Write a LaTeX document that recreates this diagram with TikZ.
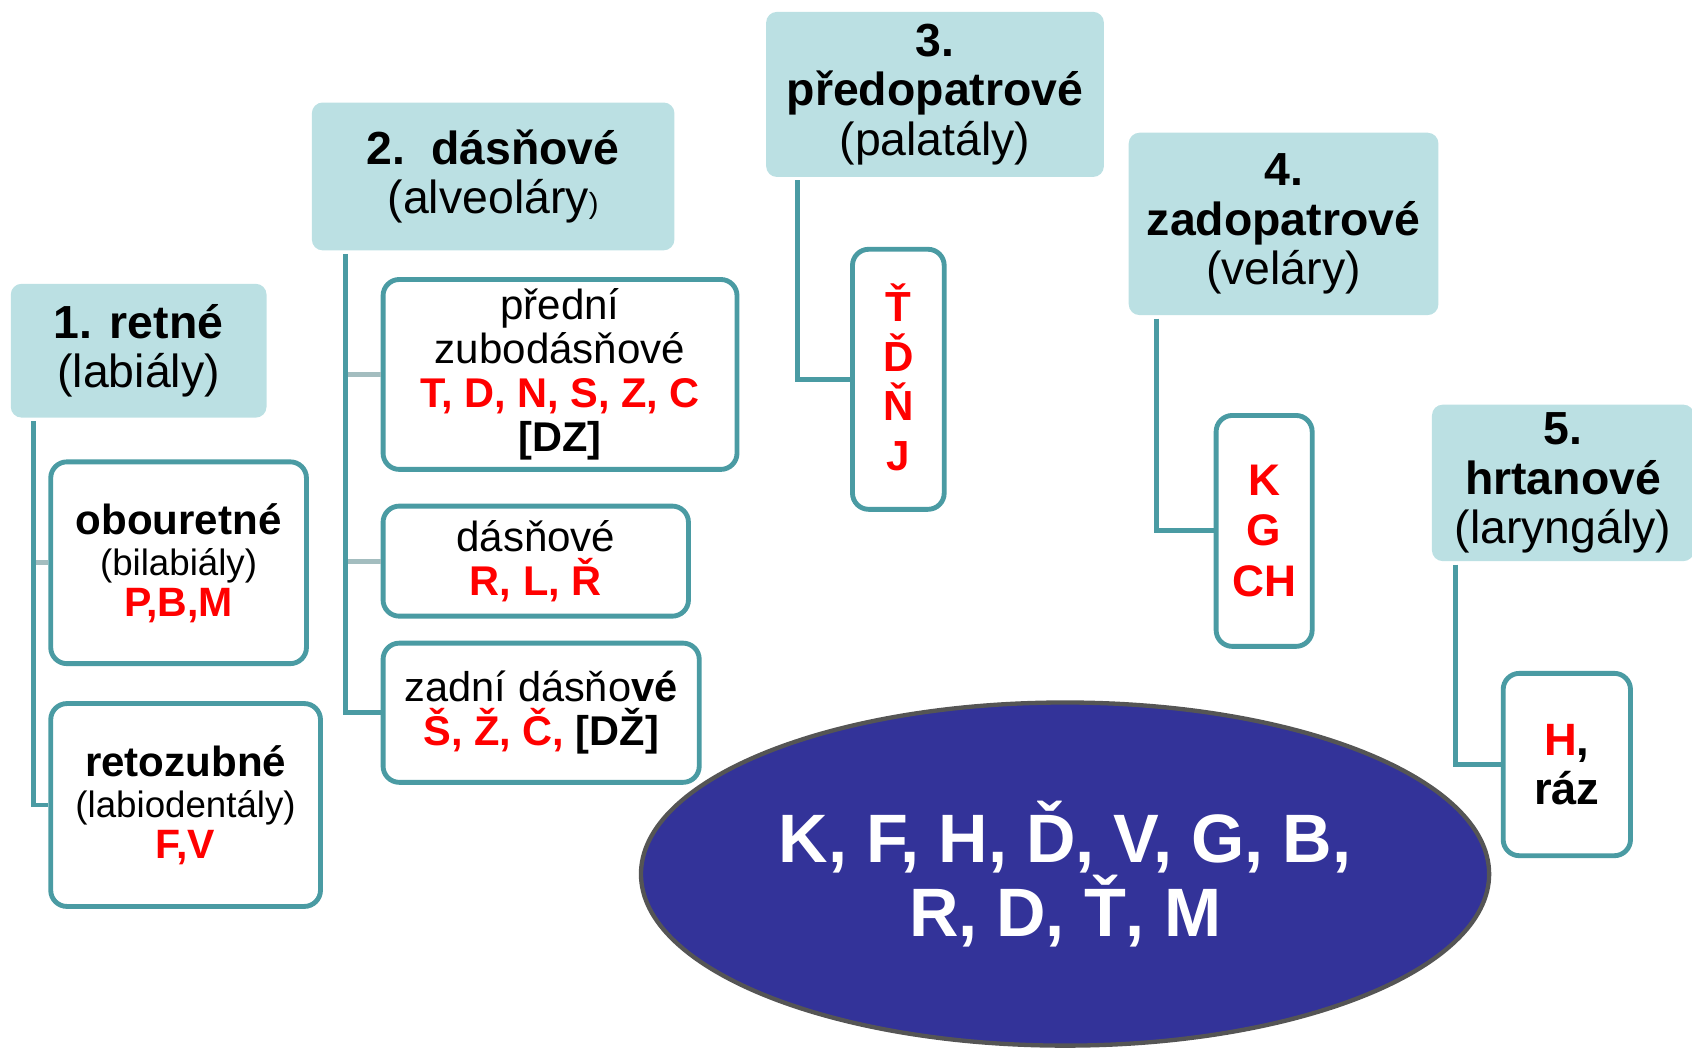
\documentclass[tikz,border=0pt]{standalone}
\usepackage{fontspec}
\setmainfont{Liberation Sans}
\usetikzlibrary{shapes.geometric}
\definecolor{hdrfill}{HTML}{BBE0E3}
\definecolor{tealc}{HTML}{4A9BA3}
\definecolor{stubc}{HTML}{A3BDBF}
\definecolor{ellfill}{HTML}{333399}
\definecolor{ellline}{HTML}{555555}
\definecolor{myred}{HTML}{FF0000}
\begin{document}
\begin{tikzpicture}[x=1pt,y=-1pt,
  hdr/.style={rectangle, rounded corners=10pt, fill=hdrfill, draw=none, align=center, inner sep=0pt,
    font={\fontsize{43}{46}\selectfont}},
  sub/.style={rectangle, rounded corners=15pt, draw=tealc, line width=4.5pt, fill=white, align=center, inner sep=0pt},
  conn/.style={draw=tealc, line width=4.5pt},
  stub/.style={draw=stubc, line width=4.5pt}]
\useasboundingbox (0,0) rectangle (1568,971);

% headers
\node[hdr, minimum width=237pt, minimum height=124pt] (h1) at (128.5,325)
  {{\bfseries 1. retné}\\(labiály)};
\node[hdr, minimum width=336pt, minimum height=137pt] (h2) at (457,163.5)
  {{\bfseries 2.\ \ dásňové}\\(alveoláry{\fontsize{27}{27}\selectfont)}};
\node[hdr, minimum width=313pt, minimum height=153pt] (h3) at (866.5,87.5)
  {{\bfseries 3.}\\{\bfseries předopatrové}\\(palatály)};
\node[hdr, minimum width=287pt, minimum height=169pt] (h4) at (1189.5,207.5)
  {{\bfseries 4.}\\{\bfseries zadopatrové}\\(veláry)};
\node[hdr, minimum width=243pt, minimum height=145pt] (h5) at (1448.5,447.5)
  {{\bfseries 5.}\\{\bfseries hrtanové}\\(laryngály)};

% sub boxes
\node[sub, minimum width=237pt, minimum height=187pt, font={\fontsize{36}{38}\selectfont}] (b1) at (165.5,521.5)
  {{\fontsize{39}{39}\selectfont\bfseries obouretné}\\{\fontsize{34}{34}\selectfont (bilabiály)}\\{\fontsize{38}{38}\selectfont\bfseries\color{myred}P,B,M}};
\node[sub, minimum width=250pt, minimum height=188pt, font={\fontsize{36}{38}\selectfont}] (b2) at (172,746)
  {{\fontsize{39}{39}\selectfont\bfseries retozubné}\\{\fontsize{34}{34}\selectfont (labiodentály)}\\{\fontsize{38}{38}\selectfont\bfseries\color{myred}F,V}};

\node[sub, minimum width=328pt, minimum height=176pt, font={\fontsize{39}{41}\selectfont}] (b3) at (519,347)
  {přední\\zubodásňové\\{\fontsize{38.5}{38.5}\selectfont\bfseries\color{myred}T, D, N, S, Z, C}\\{\fontsize{38.5}{38.5}\selectfont\bfseries [DZ]}};
\node[sub, minimum width=283pt, minimum height=102pt, font={\fontsize{39}{41}\selectfont}] (b4) at (496.5,520)
  {dásňové\\{\fontsize{38.5}{38.5}\selectfont\bfseries\color{myred}R, L, Ř}};
\node[sub, minimum width=293pt, minimum height=129pt, font={\fontsize{38.5}{41}\selectfont}] (b5) at (501.5,660.5)
  {zadní dásňo{\bfseries vé}\\{\fontsize{38.5}{38.5}\selectfont\bfseries{\color{myred}Š, Ž, Č,} [DŽ]}};

\node[sub, minimum width=85pt, minimum height=241pt, font={\fontsize{39}{46}\selectfont\bfseries\color{myred}}] (b6) at (832.5,351.5)
  {Ť\\Ď\\Ň\\J\rule[-4pt]{0pt}{1pt}};
\node[sub, minimum width=89pt, minimum height=214pt, font={\fontsize{41}{47}\selectfont\bfseries\color{myred}}] (b7) at (1171.5,492)
  {K\\G\\CH};
\node[sub, minimum width=118pt, minimum height=169pt, font={\fontsize{42}{45}\selectfont\bfseries}] (b8) at (1452,708.5)
  {{\color{myred}H},\\ráz};

% ellipse
\node[ellipse, fill=ellfill, draw=ellline, line width=4pt, minimum width=786pt, minimum height=318pt,
  inner sep=0pt, align=center, text=white, font={\fontsize{63.5}{68}\selectfont\bfseries}] (el) at (987,810)
  {K, F, H, Ď, V, G, B,\\R, D, Ť, M};

% connectors
\coordinate (v1) at ([xshift=21pt,yshift=-3pt]h1.south west);
\draw[stub] (b1.west -| v1) -- (b1.west);
\draw[conn] (v1) |- (b2.west);

\coordinate (v2) at ([xshift=31pt,yshift=-3pt]h2.south west);
\draw[stub] (b3.west -| v2) -- (b3.west);
\draw[stub] (b4.west -| v2) -- (b4.west);
\draw[conn] (v2) |- (b5.west);

\coordinate (v3) at ([xshift=29pt,yshift=-3pt]h3.south west);
\draw[conn] (v3) |- (b6.west);

\coordinate (v4) at ([xshift=26pt,yshift=-3pt]h4.south west);
\draw[conn] (v4) |- (b7.west);

\coordinate (v5) at ([xshift=22pt,yshift=-3pt]h5.south west);
\draw[conn] (v5) |- (b8.west);
\end{tikzpicture}
\end{document}
